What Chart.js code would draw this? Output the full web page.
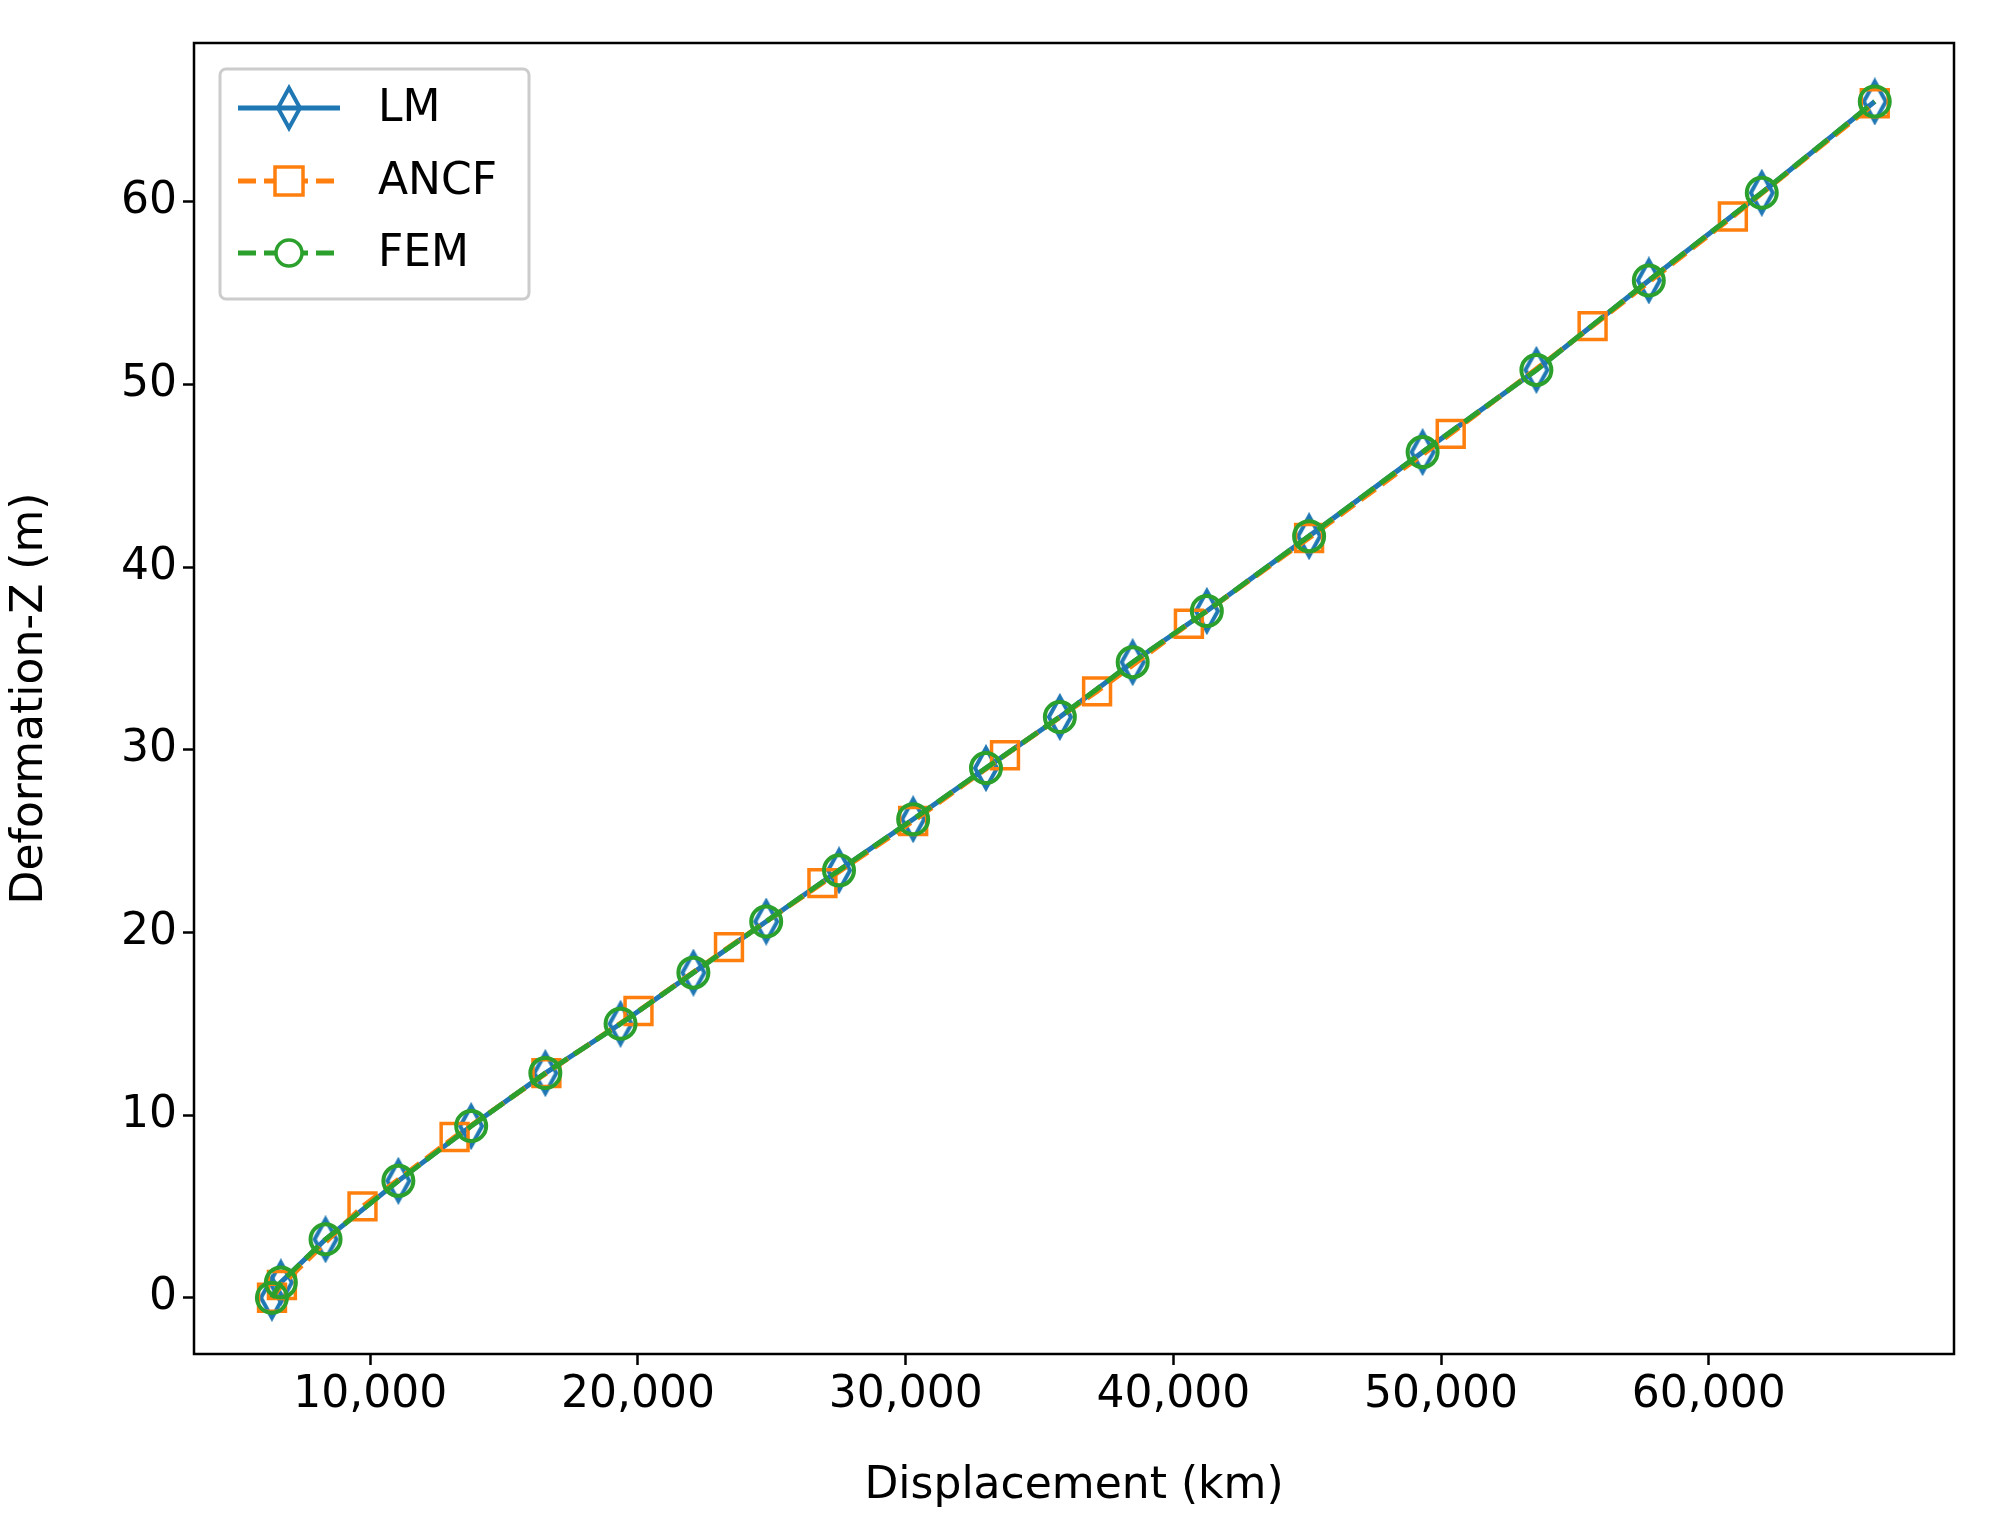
<!DOCTYPE html>
<html>
<head>
<meta charset="utf-8">
<script src="https://cdn.jsdelivr.net/npm/chart.js@4"></script>
<style>html,body{margin:0;background:#fff}</style>
</head>
<body>
<canvas id="c" width="1992" height="1517"></canvas>
<script>
const lmX = [6326, 6660, 8330, 11050, 13770, 16540, 19350, 22070, 24790, 27510, 30280, 33000, 35760, 38480, 41250, 45070, 49310, 53560, 57760, 61980, 66200];
const lmY = [0, 0.84, 3.2, 6.4, 9.4, 12.3, 15.0, 17.8, 20.6, 23.4, 26.2, 29.0, 31.8, 34.8, 37.6, 41.7, 46.3, 50.8, 55.7, 60.5, 65.5];
const ancfX = [6330, 6700, 9710, 13150, 16580, 20020, 23400, 26890, 30280, 33710, 37150, 40580, 45070, 50360, 55660, 60900, 66200];
const ancfY = [0, 0.7, 5.0, 8.8, 12.3, 15.7, 19.2, 22.7, 26.1, 29.7, 33.2, 36.9, 41.6, 47.3, 53.2, 59.2, 65.4];
const femX = lmX;
const femY = lmY;
const xTicks = [10000, 20000, 30000, 40000, 50000, 60000];
const yTicks = [0, 10, 20, 30, 40, 50, 60];

const BLUE = '#1f77b4', ORANGE = '#ff7f0e', GREEN = '#2ca02c';
const FONT = "'DejaVu Sans', sans-serif";

// thin diamond marker like matplotlib 'd'
function diamond(w, h, lw) {
  const cv = document.createElement('canvas');
  cv.width = w + lw * 2; cv.height = h + lw * 2;
  const g = cv.getContext('2d');
  const cx = cv.width / 2, cy = cv.height / 2;
  g.beginPath();
  g.moveTo(cx, cy - h / 2); g.lineTo(cx + w / 2, cy);
  g.lineTo(cx, cy + h / 2); g.lineTo(cx - w / 2, cy); g.closePath();
  g.lineWidth = lw; g.strokeStyle = BLUE; g.stroke();
  return cv;
}
const dia = diamond(22, 40, 4);

const pts = (xs, ys) => xs.map((x, i) => ({x, y: ys[i]}));

const legendPlugin = {
  id: 'mplLegend',
  afterDraw(chart) {
    const ctx = chart.ctx;
    ctx.save();
    ctx.fillStyle = 'rgba(255,255,255,0.8)';
    ctx.strokeStyle = '#cccccc';
    ctx.lineWidth = 3;
    ctx.beginPath();
    ctx.roundRect(220, 69, 309, 230, 6);
    ctx.fill(); ctx.stroke();
    const rows = [
      {label: 'LM', color: BLUE, dash: [], y: 108},
      {label: 'ANCF', color: ORANGE, dash: [18, 8], y: 181},
      {label: 'FEM', color: GREEN, dash: [18, 8], y: 253}
    ];
    rows.forEach((r, i) => {
      ctx.setLineDash(r.dash);
      ctx.strokeStyle = r.color; ctx.lineWidth = 5;
      ctx.beginPath(); ctx.moveTo(238, r.y); ctx.lineTo(340, r.y); ctx.stroke();
      ctx.setLineDash([]);
      ctx.lineWidth = 3.5;
      if (i === 0) ctx.drawImage(dia, 289 - dia.width / 2, r.y - dia.height / 2);
      if (i === 1) { ctx.fillStyle = '#fff'; ctx.fillRect(275, r.y - 14, 28, 28); ctx.strokeRect(275, r.y - 14, 28, 28); }
      if (i === 2) { ctx.fillStyle = '#fff'; ctx.beginPath(); ctx.arc(289, r.y, 13, 0, Math.PI * 2); ctx.fill(); ctx.stroke(); }
      ctx.fillStyle = '#000';
      ctx.font = '44px ' + FONT;
      ctx.textBaseline = 'middle';
      ctx.fillText(r.label, 378, r.y + 2);
    });
    ctx.restore();
  }
};

const frame = {
  id: 'frame',
  afterDraw(chart) {
    const a = chart.chartArea, ctx = chart.ctx;
    ctx.save(); ctx.strokeStyle = '#000'; ctx.lineWidth = 2.5;
    ctx.strokeRect(a.left, a.top, a.right - a.left, a.bottom - a.top);
    ctx.restore();
  }
};

const gridOpts = { display: true, drawOnChartArea: false, drawTicks: true, tickLength: 11, tickColor: '#000', tickWidth: 2.5 };

new Chart(document.getElementById('c'), {
  type: 'scatter',
  data: {
    datasets: [
      { label: 'LM', data: pts(lmX, lmY), showLine: true, borderColor: BLUE, borderWidth: 5,
        pointStyle: dia, order: 3 },
      { label: 'ANCF', data: pts(ancfX, ancfY), showLine: true, borderColor: ORANGE, borderWidth: 5,
        borderDash: [18, 8], pointStyle: 'rect', pointRadius: 19, pointBorderWidth: 3.5,
        pointBackgroundColor: 'rgba(0,0,0,0)', pointBorderColor: ORANGE, order: 2 },
      { label: 'FEM', data: pts(femX, femY), showLine: true, borderColor: GREEN, borderWidth: 5,
        borderDash: [18, 8], pointStyle: 'circle', pointRadius: 15, pointBorderWidth: 4,
        pointBackgroundColor: 'rgba(0,0,0,0)', pointBorderColor: GREEN, order: 1 }
    ]
  },
  options: {
    responsive: false, animation: false, devicePixelRatio: 1,
    layout: { padding: { top: 43, right: 38, left: 0, bottom: 0 } },
    plugins: { legend: { display: false }, tooltip: { enabled: false } },
    scales: {
      x: {
        type: 'linear', min: 3416, max: 69160,
        afterBuildTicks: s => { s.ticks = xTicks.map(v => ({value: v})); },
        afterFit: s => { s.height = 163; },
        grid: gridOpts,
        border: { display: false },
        ticks: { color: '#000', font: { family: FONT, size: 44 }, padding: 4,
          callback: v => v.toLocaleString('en-US') },
        title: { display: true, text: 'Displacement (km)', color: '#000', font: { family: FONT, size: 44 }, padding: { top: 0 } }
      },
      y: {
        type: 'linear', min: -3.08, max: 68.7,
        afterBuildTicks: s => { s.ticks = yTicks.map(v => ({value: v})); },
        afterFit: s => { s.width = 194; },
        grid: gridOpts,
        border: { display: false },
        ticks: { color: '#000', font: { family: FONT, size: 44 }, padding: 6 },
        title: { display: true, text: 'Deformation-Z (m)', color: '#000', font: { family: FONT, size: 44 }, padding: { bottom: 4 } }
      }
    }
  },
  plugins: [frame, legendPlugin]
});
</script>
</body>
</html>
